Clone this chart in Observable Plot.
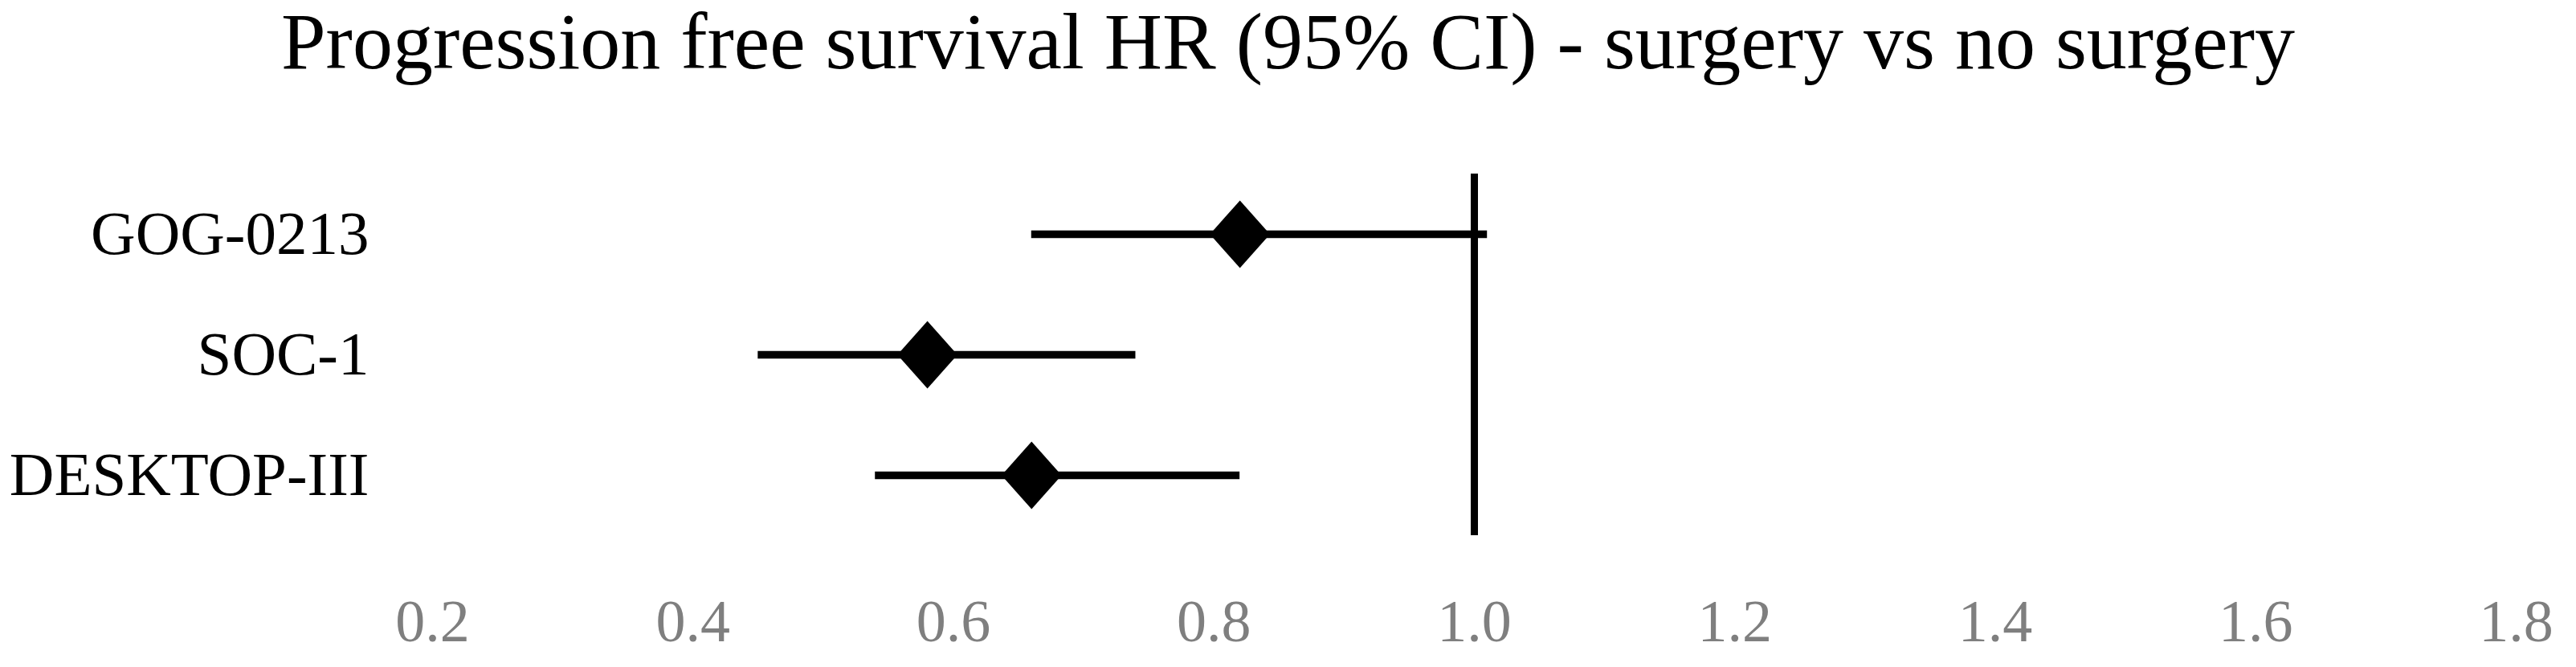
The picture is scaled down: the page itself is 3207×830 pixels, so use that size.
<!DOCTYPE html>
<html>
<head>
<meta charset="utf-8">
<script src="https://cdn.jsdelivr.net/npm/d3@7"></script>
<script src="https://cdn.jsdelivr.net/npm/@observablehq/plot@0.6"></script>
<style>
  html, body { margin: 0; padding: 0; background: #fff; overflow: hidden; }
  #title {
    width: 3207px; height: 104px; line-height: 104px;
    text-align: center; font-family: "Liberation Serif", serif;
    font-size: 100px; color: #000; white-space: nowrap;
  }
  #chart svg { display: block; }
</style>
</head>
<body>
<div id="title">Progression free survival HR (95% CI) - surgery vs no surgery</div>
<div id="chart"></div>
<script>
const trials = ["GOG-0213", "SOC-1", "DESKTOP-III"];
const hr = [0.82, 0.58, 0.66];
const lower = [0.66, 0.45, 0.54];
const upper = [1.01, 0.74, 0.82];
const xTicks = [0.2, 0.4, 0.6, 0.8, 1.0, 1.2, 1.4, 1.6, 1.8];
const reference = [1.0];

const rows = trials.map((t, i) => ({trial: t, hr: hr[i], lo: lower[i], hi: upper[i]}));

const tallDiamond = {
  draw(context, size) {
    const r = Math.sqrt(size / Math.PI);
    const h = r, w = r * 0.89;
    context.moveTo(0, -h);
    context.lineTo(w, 0);
    context.lineTo(0, h);
    context.lineTo(-w, 0);
    context.closePath();
  }
};

const chart = Plot.plot({
  width: 3207,
  height: 726,
  marginTop: 112,
  marginBottom: 164,
  marginLeft: 538,
  marginRight: 75,
  style: {fontFamily: "Liberation Serif, serif", background: "#fff"},
  x: {domain: [0.2, 1.8]},
  y: {type: "band", domain: trials, padding: 0},
  marks: [
    Plot.axisX({ticks: xTicks, tickFormat: d3.format(".1f"), tickSize: 0, tickPadding: 79, fontSize: 74, color: "#7f7f7f", label: null}),
    Plot.axisY({tickSize: 0, tickPadding: 79, fontSize: 77, color: "#000", label: null}),
    Plot.ruleX(reference, {x: d => d, stroke: "#000", strokeWidth: 9}),
    Plot.ruleY(rows, {y: "trial", x1: "lo", x2: "hi", stroke: "#000", strokeWidth: 9.5}),
    Plot.dot(rows, {x: "hr", y: "trial", symbol: tallDiamond, r: 42, fill: "#000", stroke: null})
  ]
});
document.getElementById("chart").appendChild(chart);
</script>
</body>
</html>
